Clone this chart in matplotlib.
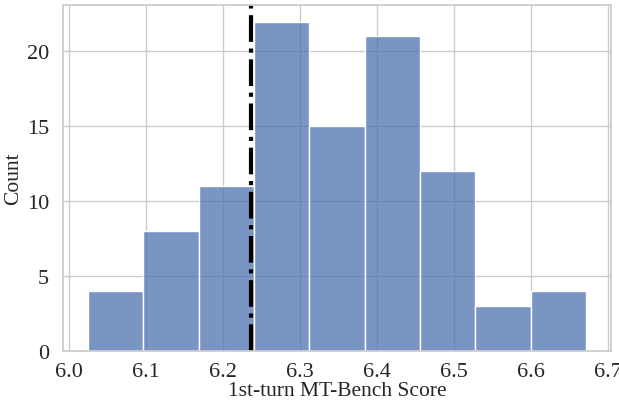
import numpy as np
import pandas as pd
import matplotlib
matplotlib.use('Agg')
import matplotlib.pyplot as plt
import seaborn as sns

# histogram
bin_lo = 6.025
bin_hi = 6.672
counts = [4, 8, 11, 22, 15, 21, 12, 3, 4]
ref_score = 6.237

sns.set_theme(style='whitegrid')
plt.rcParams['font.family'] = ['Liberation Serif', 'DejaVu Serif']

edges = np.linspace(bin_lo, bin_hi, len(counts) + 1)
df = pd.DataFrame({'score': (edges[:-1] + edges[1:]) / 2, 'n': counts})

fig = plt.figure(figsize=(6.19, 4.02), dpi=100)
ax = fig.add_axes([0.102, 0.124, 0.885, 0.861])

sns.histplot(data=df, x='score', weights='n', bins=list(edges), ax=ax)
ax.axvline(ref_score, color='black', ls='-.', lw=3)

ax.set_xlabel('1st-turn MT-Bench Score', fontsize=15.5, labelpad=0)
ax.set_ylabel('Count', fontsize=15.5, labelpad=3)
ax.tick_params(axis='x', labelsize=16, pad=2)
ax.tick_params(axis='y', labelsize=16, pad=4)
ax.set_xticks(np.round(np.arange(6.0, 6.71, 0.1), 1))
ax.set_yticks([0, 5, 10, 15, 20])

fig.savefig('out.png', dpi=100)
